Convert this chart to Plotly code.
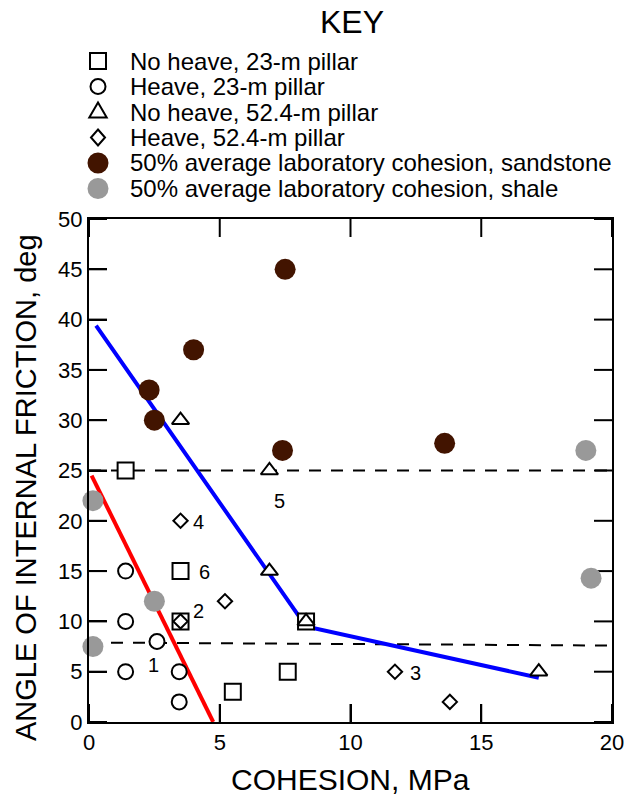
import plotly.graph_objects as go

FONT = "Liberation Sans, Arial, sans-serif"

# ---------------- data ----------------
noheave23_x = [1.4, 3.5, 3.5, 5.5, 7.6, 8.3]
noheave23_y = [25, 15, 10, 3, 5, 10]

heave23_x = [1.4, 1.4, 1.4, 2.6, 3.45, 3.45]
heave23_y = [15, 10, 5, 8, 5, 2]

noheave52_x = [3.5, 6.9, 6.9, 8.3, 17.2]
noheave52_y = [30, 25, 15, 10, 5]

heave52_x = [3.5, 5.2, 3.5, 11.7, 13.8]
heave52_y = [20, 12, 10, 5, 2]

sandstone_x = [7.5, 4.0, 2.3, 2.5, 7.4, 13.6]
sandstone_y = [45, 37, 33, 30, 27, 27.7]

shale_x = [0.15, 2.5, 0.15, 19.0, 19.2]
shale_y = [22, 12, 7.5, 27, 14.3]

red_x = [0.1, 4.75]
red_y = [24.5, 0]

blue_x = [0.27, 8.3, 17.2]
blue_y = [39.4, 9.5, 4.4]

dash_upper_x = [0, 20]
dash_upper_y = [25, 25]
dash_lower_x = [0, 20]
dash_lower_y = [7.9, 7.6]

point_labels = ["1", "2", "3", "4", "5", "6"]
point_label_x = [2.45, 4.2, 12.5, 4.2, 7.27, 4.4]
point_label_y = [5.7, 11, 4.9, 19.9, 22, 14.9]

x_ticks = [0, 5, 10, 15, 20]
y_ticks = [0, 5, 10, 15, 20, 25, 30, 35, 40, 45, 50]

key_names = [
    "No heave, 23-m pillar",
    "Heave, 23-m pillar",
    "No heave, 52.4-m pillar",
    "Heave, 52.4-m pillar",
    "50% average laboratory cohesion, sandstone",
    "50% average laboratory cohesion, shale",
]

# ---------------- styles ----------------
BROWN = "#421400"
GRAY = "#999999"
marker_styles = [
    dict(symbol="square", size=16, color="white", line=dict(color="black", width=2)),
    dict(symbol="circle", size=15, color="white", line=dict(color="black", width=2)),
    dict(symbol="triangle-up", size=15, color="white", line=dict(color="black", width=2)),
    dict(symbol="diamond", size=11, color="white", line=dict(color="black", width=2)),
    dict(symbol="circle", size=21, color=BROWN, line=dict(color=BROWN, width=0)),
    dict(symbol="circle", size=21, color=GRAY, line=dict(color=GRAY, width=0)),
]

W, H = 636, 800
L, R, T, B = 89, 612, 219, 722  # plot frame in pixels
XMIN, XMAX, YMIN, YMAX = 0, 20, 0, 50
TICK_PX = 18
X_PER_PX = (XMAX - XMIN) / (R - L)
Y_PER_PX = (YMAX - YMIN) / (B - T)


def paper_x(px):
    return (px - L) / (R - L)


def paper_y(py):
    return (B - py) / (B - T)


fig = go.Figure()

# lines
dash = "12px,10px"
fig.add_trace(go.Scatter(x=dash_upper_x, y=dash_upper_y, mode="lines",
                         line=dict(color="black", width=2, dash=dash)))
fig.add_trace(go.Scatter(x=dash_lower_x, y=dash_lower_y, mode="lines",
                         line=dict(color="black", width=2, dash=dash)))
fig.add_trace(go.Scatter(x=red_x, y=red_y, mode="lines",
                         line=dict(color="#ff0000", width=4)))
fig.add_trace(go.Scatter(x=blue_x, y=blue_y, mode="lines",
                         line=dict(color="#0000ff", width=4)))

# inside tick marks on all four sides, built from the tick arrays
tx, ty = [], []
for v in y_ticks:
    tx += [XMIN, XMIN + TICK_PX * X_PER_PX, None, XMAX - TICK_PX * X_PER_PX, XMAX, None]
    ty += [v, v, None, v, v, None]
for v in x_ticks:
    tx += [v, v, None, v, v, None]
    ty += [YMIN, YMIN + TICK_PX * Y_PER_PX, None, YMAX - TICK_PX * Y_PER_PX, YMAX, None]
fig.add_trace(go.Scatter(x=tx, y=ty, mode="lines", line=dict(color="black", width=2),
                         connectgaps=False, cliponaxis=False))

series = [
    (noheave23_x, noheave23_y),
    (heave23_x, heave23_y),
    (noheave52_x, noheave52_y),
    (heave52_x, heave52_y),
    (sandstone_x, sandstone_y),
    (shale_x, shale_y),
]
for (sx, sy), st, nm in zip(series, marker_styles, key_names):
    fig.add_trace(go.Scatter(x=sx, y=sy, mode="markers", marker=st, name=nm,
                             cliponaxis=False))

for t, lx, ly in zip(point_labels, point_label_x, point_label_y):
    fig.add_annotation(x=lx, y=ly, text=t, showarrow=False, xref="x", yref="y",
                       font=dict(family=FONT, size=20, color="black"))

# ---------------- key (swatches as pixel-sized shapes above the frame) ----------------
ROW0, ROW_STEP = 61, 25.5
KEY_SYM_PX, KEY_TXT_PX = 98, 128
blk = dict(color="black", width=2)
swatches = [
    dict(type="rect", x0=-8, x1=8, y0=-8, y1=8, line=blk, fillcolor="white"),
    dict(type="circle", x0=-7.5, x1=7.5, y0=-7.5, y1=7.5, line=blk, fillcolor="white"),
    dict(type="path", path="M -8.7,-5.5 L 8.7,-5.5 L 0,9.5 Z", line=blk, fillcolor="white"),
    dict(type="path", path="M 0,8 L 7,0 L 0,-8 L -7,0 Z", line=blk, fillcolor="white"),
    dict(type="circle", x0=-10.5, x1=10.5, y0=-10.5, y1=10.5, line=dict(width=0),
         fillcolor=BROWN),
    dict(type="circle", x0=-10.5, x1=10.5, y0=-10.5, y1=10.5, line=dict(width=0),
         fillcolor=GRAY),
]
for i, (sw, nm) in enumerate(zip(swatches, key_names)):
    ky = paper_y(ROW0 + ROW_STEP * i)
    fig.add_shape(xref="paper", yref="paper", xsizemode="pixel", ysizemode="pixel",
                  xanchor=paper_x(KEY_SYM_PX), yanchor=ky, layer="above", **sw)
    fig.add_annotation(x=paper_x(KEY_TXT_PX), y=ky, text=nm, showarrow=False,
                       xref="paper", yref="paper", xanchor="left", yanchor="middle",
                       font=dict(family=FONT, size=24, color="black"))

axis_common = dict(showline=True, linecolor="black", linewidth=2, mirror=True,
                   ticks="inside", ticklen=TICK_PX, tickwidth=2, tickcolor="black",
                   showgrid=False, zeroline=False,
                   tickfont=dict(family=FONT, size=22, color="black"))

fig.update_layout(
    width=W, height=H,
    margin=dict(l=L, r=W - R, t=T, b=H - B, pad=0),
    paper_bgcolor="white", plot_bgcolor="white",
    showlegend=False,
    title=dict(text="KEY", x=352 / W, y=1 - 22 / H, xanchor="center", yanchor="middle",
               xref="container", yref="container",
               font=dict(family=FONT, size=32, color="black")),
    xaxis=dict(range=[XMIN, XMAX], tickvals=x_ticks, **axis_common),
    yaxis=dict(range=[YMIN, YMAX], tickvals=y_ticks, **axis_common),
)

# axis titles
fig.add_annotation(x=0.5, y=paper_y(779), xref="paper", yref="paper",
                   text="COHESION, MPa", showarrow=False, xanchor="center", yanchor="middle",
                   font=dict(family=FONT, size=30, color="black"))
fig.add_annotation(x=paper_x(26), y=paper_y(488), xref="paper", yref="paper",
                   text="ANGLE OF INTERNAL FRICTION, deg", showarrow=False, textangle=-90,
                   xanchor="center", yanchor="middle",
                   font=dict(family=FONT, size=29, color="black"))

fig.write_html("out.html")
